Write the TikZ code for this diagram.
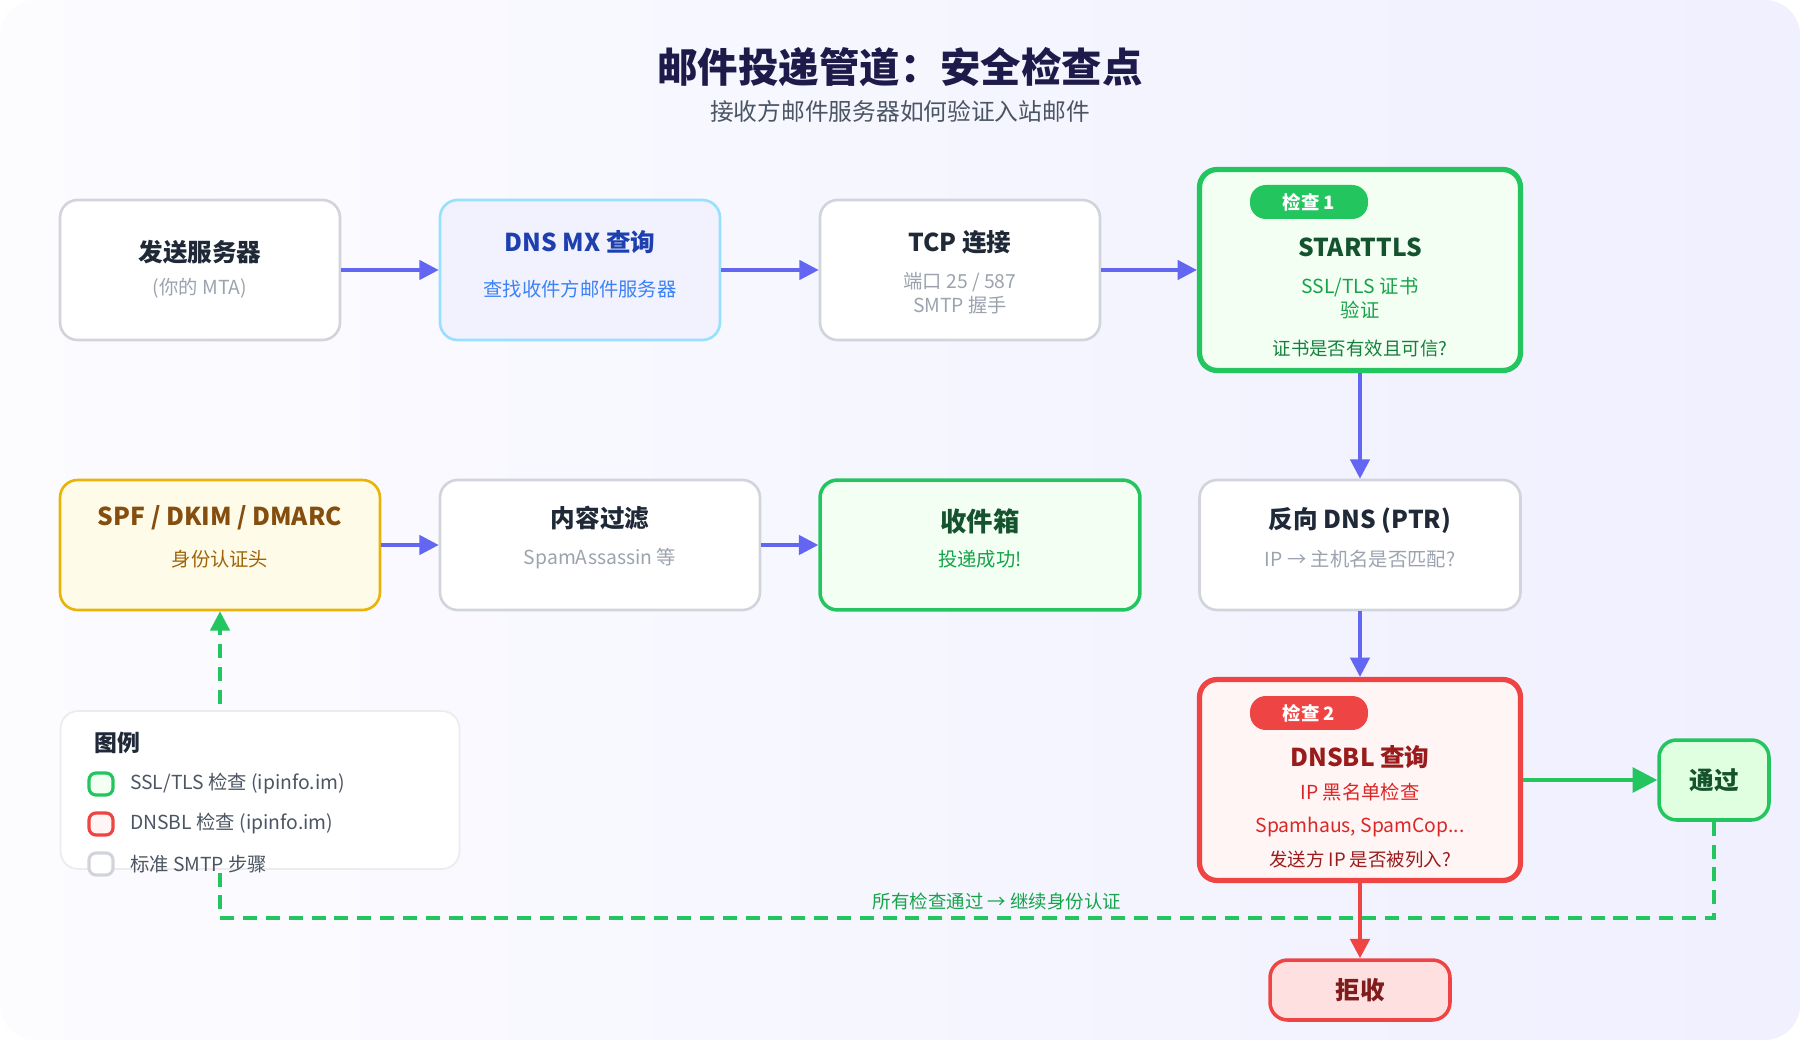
\documentclass[tikz,border=0pt]{standalone}
\usepackage{fontspec}
\setmainfont{Noto Sans CJK SC}
\usetikzlibrary{arrows.meta, positioning}
\definecolor{flow}{HTML}{6366F1}
\definecolor{okgreen}{HTML}{22C55E}
\definecolor{badred}{HTML}{EF4444}
\definecolor{gborder}{HTML}{D1D5DB}
\definecolor{gtext}{HTML}{9CA3AF}
\definecolor{dark}{HTML}{1F2937}
\tikzset{
  stepbox/.style={draw=gborder, line width=1.5pt, rounded corners=10pt, fill=white, align=center},
  hd/.style={font=\fontsize{14}{17}\selectfont\bfseries},
  sub/.style={font=\fontsize{11}{14}\selectfont},
  flowarrow/.style={draw=flow, line width=2pt, -{Triangle[length=11pt, width=11pt]}},
  badge/.style={rounded corners=9pt, text=white, font=\fontsize{10.5}{12}\selectfont\bfseries, minimum width=2.36cm, minimum height=0.68cm}
}
\begin{document}
\begin{tikzpicture}[x=0.02cm, y=-0.02cm]
\shade [left color=white!60!blue!3, right color=blue!6, rounded corners=20pt] (0,0) rectangle (1800,1040);
\useasboundingbox (0,0) rectangle (1800,1040);

% title
\node (title) at (900,67) {\fontsize{23}{28}\selectfont\bfseries\color[HTML]{1E1B4B}邮件投递管道：安全检查点};
\node (subtitle) at (900,111) {\fontsize{13.5}{16}\selectfont\color[HTML]{4B5563}接收方邮件服务器如何验证入站邮件};

% first row
\node [stepbox, minimum width=5.6cm, minimum height=2.8cm] (mta) at (200,270) {};
\node [hd, text=dark] at (200,252) {发送服务器};
\node [sub, text=gtext] at (200,288) {(你的 MTA)};

\node [stepbox, draw=blue!30!cyan!40, fill=blue!5, minimum width=5.6cm, minimum height=2.8cm] (mx) at (580,270) {};
\node [hd, text={rgb,255:red,30;green,64;blue,175}] at (580,242) {DNS MX 查询};
\node [sub, text={rgb,255:red,59;green,130;blue,246}] at (580,289) {查找收件方邮件服务器};

\node [stepbox, minimum width=5.6cm, minimum height=2.8cm] (tcp) at (960,270) {};
\node [hd, text=dark] at (960,242) {TCP 连接};
\node [sub, text=gtext, align=center] at (960,293) {端口 25 / 587\\SMTP 握手};

\node [stepbox, draw=okgreen, line width=3pt, fill=green!5, minimum width=6.42cm, minimum height=4.02cm] (tls) at (1360,270) {};
\node [badge, fill=okgreen] at (1309,202) {检查 1};
\node [hd, text={rgb,255:red,20;green,83;blue,45}] at (1360,247) {STARTTLS};
\node [sub, text={rgb,255:red,22;green,163;blue,74}, align=center] at (1360,298) {SSL/TLS 证书\\验证};
\node [sub, font=\fontsize{10.5}{13}\selectfont, text={rgb,255:red,21;green,128;blue,61}] at (1360,349) {证书是否有效且可信?};

% second row
\node [stepbox, draw={rgb,255:red,234;green,179;blue,8}, fill={rgb,255:red,254;green,252;blue,232}, minimum width=6.4cm, minimum height=2.6cm] (auth) at (220,545) {};
\node [hd, text={rgb,255:red,133;green,77;blue,14}] at (220,518) {SPF / DKIM / DMARC};
\node [sub, text={rgb,255:red,161;green,98;blue,7}] at (220,559) {身份认证头};

\node [stepbox, minimum width=6.4cm, minimum height=2.6cm] (filter) at (600,545) {};
\node [hd, text=dark] at (600,518) {内容过滤};
\node [sub, text=gtext] at (600,559) {SpamAssassin 等};

\node [stepbox, draw=okgreen, line width=2pt, fill=green!5, minimum width=6.4cm, minimum height=2.6cm] (inbox) at (980,545) {};
\node [text={rgb,255:red,20;green,83;blue,45}, font=\fontsize{15}{18}\selectfont\bfseries] at (980,521) {收件箱};
\node [sub, text={rgb,255:red,22;green,163;blue,74}] at (980,559) {投递成功!};

\node [stepbox, minimum width=6.42cm, minimum height=2.6cm] (ptr) at (1360,545) {};
\node [hd, text=dark] at (1360,521) {反向 DNS (PTR)};
\node [sub, text=gtext] at (1360,559) {IP → 主机名是否匹配?};

% check 2
\node [stepbox, draw=badred, line width=3pt, fill=red!4, minimum width=6.42cm, minimum height=4.02cm] (dnsbl) at (1360,780) {};
\node [badge, fill=badred] at (1309,713) {检查 2};
\node [hd, text={rgb,255:red,153;green,27;blue,27}] at (1360,757) {DNSBL 查询};
\node [sub, text={rgb,255:red,220;green,38;blue,38}] at (1360,792) {IP 黑名单检查};
\node [sub, text={rgb,255:red,220;green,38;blue,38}] at (1360,827) {Spamhaus, SpamCop...};
\node [sub, font=\fontsize{10.5}{13}\selectfont, text={rgb,255:red,153;green,27;blue,27}] at (1360,859) {发送方 IP 是否被列入?};

\node [stepbox, draw=okgreen, line width=2pt, fill=green!12, minimum width=2.2cm, minimum height=1.6cm, hd, text={rgb,255:red,20;green,83;blue,45}] (pass) at (1714,780) {通过};
\node [stepbox, draw=badred, line width=2pt, fill=red!12, minimum width=3.6cm, minimum height=1.2cm, hd, text={rgb,255:red,127;green,29;blue,29}] (reject) at (1360,990) {拒收};

% connectors
\draw [flowarrow] (mta) -- (mx);
\draw [flowarrow] (mx) -- (tcp);
\draw [flowarrow] (tcp) -- (tls);
\draw [flowarrow] (tls) -- (ptr);
\draw [flowarrow] (ptr) -- (dnsbl);
\draw [flowarrow] (auth) -- (filter);
\draw [flowarrow] (filter) -- (inbox);
\draw [draw=okgreen, line width=2.2pt, -{Triangle[length=14pt, width=14pt]}] (dnsbl) -- (pass);
\draw [draw=badred, line width=2.2pt, -{Triangle[length=11pt, width=11pt]}] (dnsbl) -- (reject);
\coordinate (cornerR) at (1714,918);
\coordinate (cornerL) at (220,918);
\draw [draw=okgreen, line width=2pt, dash pattern=on 8pt off 5pt, -{Triangle[length=11pt, width=11pt]}]
  (pass) -- (cornerR) -- node [above, sub, font=\fontsize{10.5}{13}\selectfont, text={rgb,255:red,22;green,163;blue,74}, pos=0.48] {所有检查通过 → 继续身份认证} (cornerL) -- (auth);

% legend
\node [stepbox, draw=gray!15, line width=1pt, minimum width=7.98cm, minimum height=3.16cm] (legend) at (260,790) {};
\node [anchor=west, font=\fontsize{13}{15}\selectfont\bfseries, text=dark] at (88,743) {图例};
\foreach \y/\bc/\fc/\t in {784/okgreen/green!5/{SSL/TLS 检查 (ipinfo.im)}, 824/badred/red!4/{DNSBL 检查 (ipinfo.im)}, 864/gborder/white/{标准 SMTP 步骤}} {
  \draw [draw=\bc, line width=1.8pt, fill=\fc, rounded corners=4pt] (89,\y-11) rectangle (113,\y+11);
  \node [anchor=west, sub, text={rgb,255:red,75;green,85;blue,99}] at (124,\y) {\t};
}
\end{tikzpicture}
\end{document}
